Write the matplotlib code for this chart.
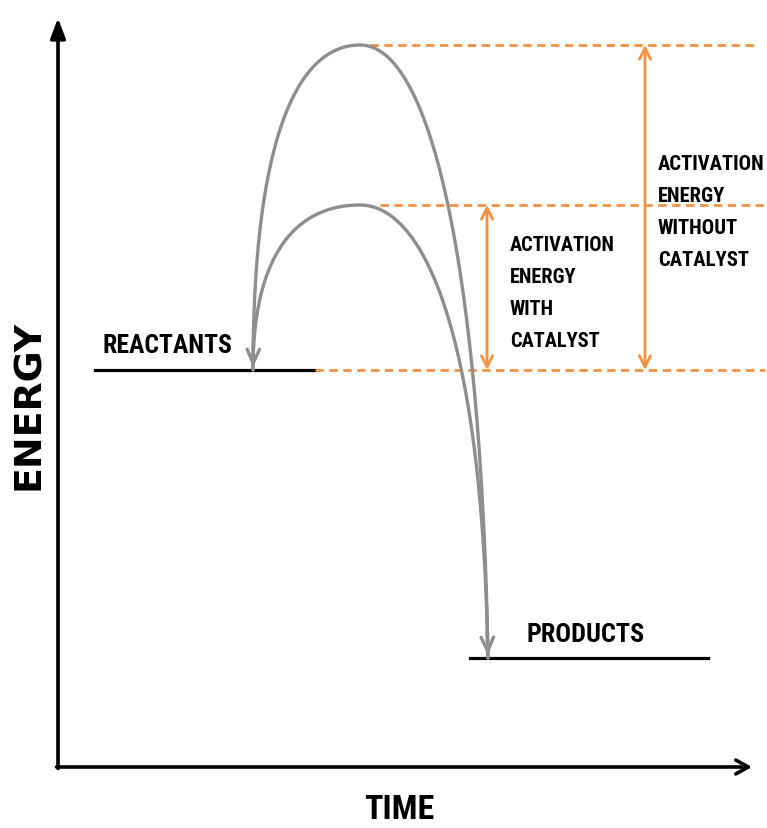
import matplotlib
matplotlib.use("Agg")
import matplotlib.pyplot as plt
from matplotlib import font_manager
import numpy as np

# energy levels (arbitrary units) and positions along the time axis
reactant_energy = 39.7
product_energy = 10.9
peak_with_catalyst = 56.2
peak_without_catalyst = 72.2

reactant_span = [3.7, 25.7]
product_span = [41.2, 65.0]
start_time = 19.5
peak_time = 30.2
end_time = 43.0

with_lines = ["ACTIVATION", "ENERGY", "WITH", "CATALYST"]
without_lines = ["ACTIVATION", "ENERGY", "WITHOUT", "CATALYST"]

gray = "#8e8e8e"
orange = "#f7913d"

# pick a narrow font if one is installed
names = {f.name for f in font_manager.fontManager.ttflist}
narrow = "DejaVu Sans"
for cand in ["Liberation Sans Narrow", "Roboto Condensed", "Noto Sans Condensed",
             "Open Sans Condensed", "DejaVu Sans Condensed"]:
    if cand in names:
        narrow = cand
        break
plt.rcParams["font.family"] = [narrow, "DejaVu Sans"]

fig = plt.figure(figsize=(7.67, 8.29), dpi=100)
ax = fig.add_axes([0, 0, 1, 1])
ax.set_xlim(-5.8, 70.9)
ax.set_ylim(-6.1, 76.8)
ax.axis("off")


def bezier(p0, p1, p2, p3, n=100):
    t = np.linspace(0, 1, n)[:, None]
    p0, p1, p2, p3 = map(np.array, (p0, p1, p2, p3))
    return ((1 - t) ** 3 * p0 + 3 * (1 - t) ** 2 * t * p1
            + 3 * (1 - t) * t ** 2 * p2 + t ** 3 * p3)


def hump(peak, right_mid):
    # rises from reactants to the peak, then falls to products
    rise = peak - reactant_energy
    run = peak_time - start_time
    left = bezier((start_time, reactant_energy),
                  (start_time, reactant_energy + 0.68 * rise),
                  (peak_time - 0.62 * run, peak),
                  (peak_time, peak))
    right = bezier((peak_time, peak),
                   (peak_time + right_mid[0], peak),
                   (end_time - 0.6, right_mid[1]),
                   (end_time, product_energy))
    return np.vstack([left, right])


big = hump(peak_without_catalyst, (7.8, 46))
small = hump(peak_with_catalyst, (6.2, 44))
for curve in (big, small):
    ax.plot(curve[:, 0], curve[:, 1], color=gray, lw=2.4,
            solid_capstyle="round", zorder=3)

# gray arrowheads at both ends
head = dict(arrowstyle="->,head_length=1.0,head_width=0.45", color=gray, lw=2.4)
ax.annotate("", xy=(start_time, reactant_energy),
            xytext=(start_time + 0.05, reactant_energy + 3), arrowprops=head)
ax.annotate("", xy=(end_time, product_energy),
            xytext=(end_time - 0.1, product_energy + 3), arrowprops=head)

# levels
ax.plot(reactant_span, [reactant_energy] * 2, color="black", lw=2.3)
ax.plot(product_span, [product_energy] * 2, color="black", lw=2.3)

dash = dict(color=orange, lw=2.0, ls=(0, (3, 2)))
ax.plot([reactant_span[1], 70.7], [reactant_energy] * 2, **dash)
ax.plot([32.2, 70.7], [peak_with_catalyst] * 2, **dash)
ax.plot([31.2, 69.7], [peak_without_catalyst] * 2, **dash)

# activation energy arrows
oarrow = dict(arrowstyle="<->,head_length=0.8,head_width=0.4", color=orange,
              lw=2.0, shrinkA=0, shrinkB=0)
ax.annotate("", xy=(42.9, reactant_energy), xytext=(42.9, peak_with_catalyst),
            arrowprops=oarrow)
ax.annotate("", xy=(58.7, reactant_energy), xytext=(58.7, peak_without_catalyst),
            arrowprops=oarrow)

# axes with arrows
ax.annotate("", xy=(0, 74.9), xytext=(0, -0.15),
            arrowprops=dict(arrowstyle="-|>,head_length=1.2,head_width=0.45",
                            color="black", lw=2.6, shrinkA=0, shrinkB=0))
ax.annotate("", xy=(69.4, 0), xytext=(-0.15, 0),
            arrowprops=dict(arrowstyle="->,head_length=0.9,head_width=0.5",
                            color="black", lw=2.6, shrinkA=0, shrinkB=0))

bold = dict(fontweight="bold", color="black", va="baseline")
fig.canvas.draw()
renderer = fig.canvas.get_renderer()


def fit(txt, target, side="w"):
    # scale a label to the size it has in the original drawing
    bb = txt.get_window_extent(renderer)
    size = bb.height if side == "h" else bb.width
    txt.set_fontsize(txt.get_fontsize() * target / size)
    return txt.get_fontsize()


energy = ax.text(-2.85, 36.3, "ENERGY", rotation=90, ha="center",
                 fontsize=27, family=["DejaVu Sans"], fontweight="bold")
energy.set_va("center")
fit(energy, 170, "h")
fit(ax.text(34.1, -5.1, "TIME", ha="center", fontsize=26, **bold), 70)
fit(ax.text(4.5, 41.5, "REACTANTS", ha="left", fontsize=21, **bold), 130)
fit(ax.text(46.9, 12.6, "PRODUCTS", ha="left", fontsize=21, **bold), 118)


def stack(x, y0, lines, width):
    first = ax.text(x, y0, lines[0], ha="left", fontsize=16, **bold)
    size = fit(first, width)
    for i, line in enumerate(lines[1:], start=1):
        ax.text(x, y0 - 3.2 * i, line, ha="left", fontsize=size, **bold)


stack(45.2, 51.7, with_lines, 106)
stack(60.0, 59.8, without_lines, 107)

plt.savefig("out.png", dpi=100)
